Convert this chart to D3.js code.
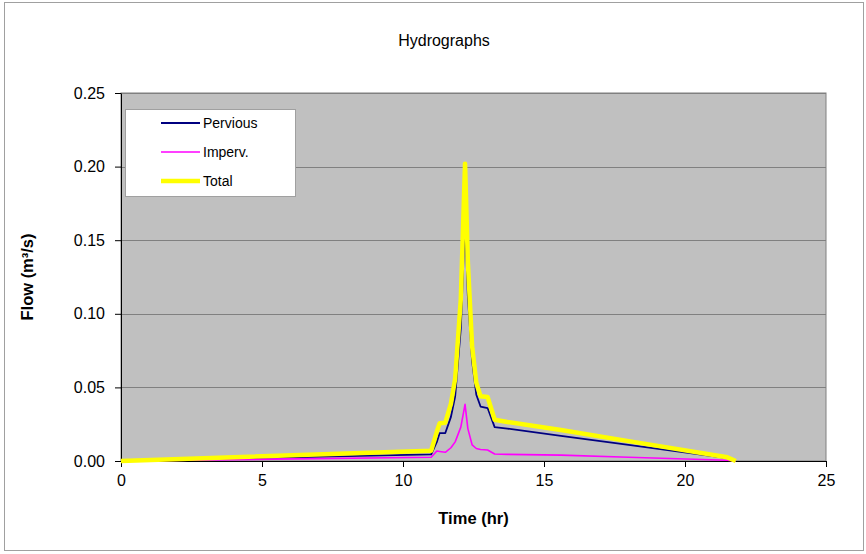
<!DOCTYPE html>
<html>
<head>
<meta charset="utf-8">
<script src="https://cdn.jsdelivr.net/npm/d3@7"></script>
<style>
  body { margin: 0; background: #fff; }
  svg { display: block; }
</style>
</head>
<body>
<div id="chart"></div>
<script>
// hydrograph values
const time     = [0, 11.0, 11.2, 11.3, 11.5, 11.7, 11.85, 12.05, 12.2, 12.3, 12.45, 12.6, 12.75, 13.0, 13.25, 13.7, 15.6, 18.0, 21.5, 21.8];
const pervious = [0, 0.0045, 0.013, 0.019, 0.019, 0.030, 0.044, 0.090, 0.165, 0.112, 0.068, 0.045, 0.037, 0.036, 0.023, 0.022, 0.017, 0.011, 0.002, 0];
const imperv   = [0, 0.0025, 0.0068, 0.0065, 0.0059, 0.009, 0.013, 0.023, 0.0385, 0.022, 0.011, 0.0085, 0.0078, 0.0075, 0.0048, 0.0045, 0.0040, 0.0025, 0.0005, 0];
const total    = [0, 0.007, 0.020, 0.0256, 0.026, 0.039, 0.056, 0.110, 0.202, 0.135, 0.078, 0.053, 0.044, 0.0435, 0.028, 0.0265, 0.021, 0.0135, 0.0025, 0];

const xTicks = [0, 5, 10, 15, 20, 25];
const yTicks = [0, 0.05, 0.10, 0.15, 0.20, 0.25];

const series = [
    { name: "Pervious", values: pervious, color: "#000080", width: 1.8 },
    { name: "Imperv.",  values: imperv,   color: "#ff00ff", width: 1.6 },
    { name: "Total",    values: total,    color: "#ffff00", width: 4.5 },
];

const width = 866, height = 554;
const plot = { left: 121, right: 826, top: 93, bottom: 461 };
const font = "'Liberation Sans', Arial, sans-serif";

const x = d3.scaleLinear().domain([0, 25]).range([plot.left, plot.right]);
const y = d3.scaleLinear().domain([0, 0.25]).range([plot.bottom, plot.top]);

const svg = d3.select("#chart").append("svg")
    .attr("width", width)
    .attr("height", height)
    .style("font-family", font);

// outer chart border
svg.append("rect")
    .attr("x", 4.5).attr("y", 2.5)
    .attr("width", 859).attr("height", 548)
    .attr("fill", "#fff")
    .attr("stroke", "#a0a0a0");

// plot area
svg.append("rect")
    .attr("x", plot.left).attr("y", plot.top)
    .attr("width", plot.right - plot.left).attr("height", plot.bottom - plot.top)
    .attr("fill", "#c0c0c0")
    .attr("stroke", "#808080");

// gridlines
svg.append("g")
    .selectAll("line")
    .data(yTicks.filter(d => d > 0))
    .join("line")
    .attr("x1", plot.left).attr("x2", plot.right)
    .attr("y1", d => Math.round(y(d)) + 0.5).attr("y2", d => Math.round(y(d)) + 0.5)
    .attr("stroke", "#808080");

// axes
const xAxis = svg.append("g")
    .attr("transform", `translate(0,${plot.bottom})`)
    .call(d3.axisBottom(x).tickValues(xTicks).tickFormat(d3.format("d")).tickSize(6).tickSizeOuter(0).tickPadding(8));
const yAxis = svg.append("g")
    .attr("transform", `translate(${plot.left},0)`)
    .call(d3.axisLeft(y).tickValues(yTicks).tickFormat(d3.format(".2f")).tickSize(6).tickSizeOuter(0).tickPadding(10));

[xAxis, yAxis].forEach(a => {
    a.selectAll("text").attr("font-size", 16).attr("font-family", font).attr("fill", "#000");
    a.selectAll("line").attr("stroke", "#000");
    a.select(".domain").attr("stroke", "#000");
});

// lines
const line = d3.line()
    .x((d, i) => x(time[i]))
    .y(d => y(d));

svg.append("g")
    .selectAll("path")
    .data(series)
    .join("path")
    .attr("d", d => line(d.values))
    .attr("fill", "none")
    .attr("stroke", d => d.color)
    .attr("stroke-width", d => d.width)
    .attr("stroke-linejoin", "round");

// titles
svg.append("text")
    .attr("x", 444).attr("y", 46)
    .attr("text-anchor", "middle")
    .attr("font-size", 16)
    .text("Hydrographs");

svg.append("text")
    .attr("x", (plot.left + plot.right) / 2).attr("y", 524)
    .attr("text-anchor", "middle")
    .attr("font-size", 16.5)
    .attr("font-weight", "bold")
    .text("Time (hr)");

svg.append("text")
    .attr("transform", `translate(33,${(plot.top + plot.bottom) / 2}) rotate(-90)`)
    .attr("text-anchor", "middle")
    .attr("font-size", 16.5)
    .attr("font-weight", "bold")
    .text("Flow (m³/s)");

// legend
const legend = svg.append("g");
legend.append("rect")
    .attr("x", 125.5).attr("y", 109.5)
    .attr("width", 170).attr("height", 87)
    .attr("fill", "#fff")
    .attr("stroke", "#a0a0a0");

series.forEach((s, i) => {
    const ly = 123 + i * 29;
    legend.append("line")
        .attr("x1", 161).attr("x2", 200)
        .attr("y1", ly).attr("y2", ly)
        .attr("stroke", s.color)
        .attr("stroke-width", s.width);
    legend.append("text")
        .attr("x", 203).attr("y", ly)
        .attr("dy", "0.35em")
        .attr("font-size", 14)
        .text(s.name);
});
</script>
</body>
</html>
